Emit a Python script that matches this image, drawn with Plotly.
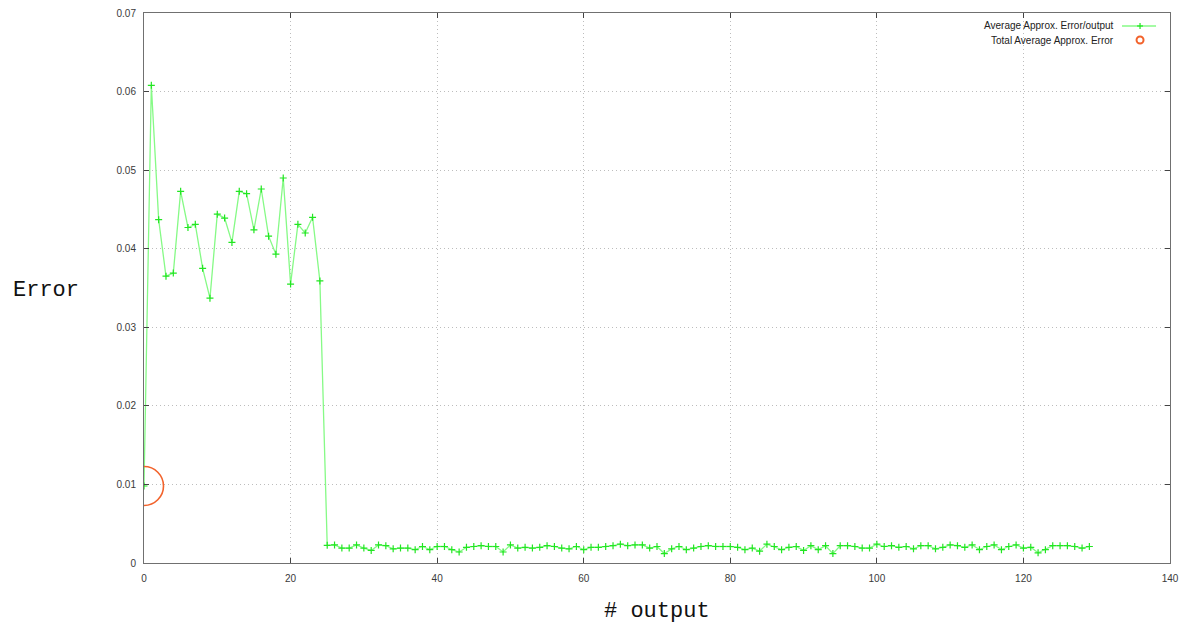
import plotly.graph_objects as go

# ---- data ----
x_vals = list(range(0, 130))
avg_err = [
    0.0098, 0.0608, 0.0437, 0.0365, 0.0369, 0.0473, 0.0427, 0.0431, 0.0375, 0.0337,
    0.0444, 0.0439, 0.0408, 0.0473, 0.0470, 0.0424, 0.0476, 0.0416, 0.0393, 0.0490,
    0.0355, 0.0431, 0.0420, 0.0440, 0.0359, 0.00225, 0.0023, 0.0019, 0.0019, 0.0023,
    0.0019, 0.0016, 0.0023, 0.0022, 0.0018, 0.0019, 0.0019, 0.0017, 0.0021, 0.0017,
    0.0021, 0.0021, 0.0017, 0.0014, 0.0020, 0.0021, 0.0022, 0.0021, 0.0021, 0.0014,
    0.0023, 0.0019, 0.0020, 0.0019, 0.0020, 0.0022, 0.0021, 0.0019, 0.0018, 0.0021,
    0.0017, 0.0020, 0.0020, 0.0021, 0.0022, 0.0024, 0.0022, 0.0023, 0.0023, 0.0019,
    0.0021, 0.0012, 0.0018, 0.0021, 0.0017, 0.0019, 0.0021, 0.0022, 0.0021, 0.0021,
    0.0021, 0.0020, 0.0017, 0.0019, 0.0015, 0.0024, 0.0021, 0.0017, 0.0020, 0.0021,
    0.0016, 0.0022, 0.0017, 0.0022, 0.0012, 0.0022, 0.0022, 0.0021, 0.0019, 0.0019,
    0.0024, 0.0021, 0.0022, 0.0020, 0.0021, 0.0018, 0.0022, 0.0022, 0.0018, 0.0020,
    0.0023, 0.0022, 0.0020, 0.0023, 0.0017, 0.0021, 0.0023, 0.0017, 0.0021, 0.0023,
    0.0019, 0.0020, 0.0013, 0.0017, 0.0022, 0.0022, 0.0022, 0.0021, 0.0019, 0.0021,
]
total_x = [0]
total_err = [0.0098]

x_ticks = [0, 20, 40, 60, 80, 100, 120, 140]
y_ticks = [0, 0.01, 0.02, 0.03, 0.04, 0.05, 0.06, 0.07]
y_tick_text = ["0", "0.01", "0.02", "0.03", "0.04", "0.05", "0.06", "0.07"]

series_names = ["Average Approx. Error/output", "Total Average Approx. Error"]

GREEN_LINE = "#86fa86"
GREEN_MARK = "#22e622"
ORANGE = "#f2622b"
TICK_FONT = dict(family="Liberation Sans, Arial, sans-serif", size=10, color="#3a3a3a")

fig = go.Figure()
fig.add_trace(go.Scatter(
    x=x_vals, y=avg_err, mode="lines+markers", name=series_names[0],
    line=dict(color=GREEN_LINE, width=1.3),
    marker=dict(symbol="cross-thin", size=5, line=dict(color=GREEN_MARK, width=1.2), color=GREEN_MARK),
    showlegend=False,
))
fig.add_trace(go.Scatter(
    x=total_x, y=total_err, mode="markers", name=series_names[1],
    marker=dict(symbol="circle-open", size=39, line=dict(color=ORANGE, width=1.6), color=ORANGE),
    showlegend=False, cliponaxis=True,
))

axis_common = dict(
    showgrid=True, gridcolor="#bdbdbd", griddash="1px,3px", gridwidth=1,
    showline=True, linecolor="#707070", linewidth=1, mirror="allticks",
    ticks="inside", ticklen=5, tickcolor="#444444", zeroline=False,
    tickfont=TICK_FONT, automargin=False,
)
fig.update_xaxes(range=[0, 140], tickvals=x_ticks, ticklabelstandoff=6, **axis_common)
fig.update_yaxes(range=[0, 0.07], tickvals=y_ticks, ticktext=y_tick_text, ticklabelstandoff=5, **axis_common)

# axis titles as annotations (gnuplot-like positioning)
fig.add_annotation(text="Error", xref="paper", yref="paper", x=-0.0955, y=0.496,
                   xanchor="center", yanchor="middle", showarrow=False,
                   font=dict(family="Liberation Mono, Courier New, monospace", size=22, color="#111111"))
fig.add_annotation(text="# output", xref="paper", yref="paper", x=0.5, y=-0.089,
                   xanchor="center", yanchor="middle", showarrow=False,
                   font=dict(family="Liberation Mono, Courier New, monospace", size=22, color="#111111"))

# gnuplot-style legend (text right, sample left)
leg_font = dict(family="Liberation Sans, Arial, sans-serif", size=10, color="#222222")
fig.add_annotation(text=series_names[0], xref="paper", yref="paper", x=0.9474, y=0.9764,
                   xanchor="right", yanchor="middle", showarrow=False, font=leg_font)
fig.add_annotation(text=series_names[1], xref="paper", yref="paper", x=0.9474, y=0.9509,
                   xanchor="right", yanchor="middle", showarrow=False, font=leg_font)
fig.add_shape(type="line", xref="paper", yref="paper", x0=0.9532, x1=0.9864, y0=0.9764, y1=0.9764,
              line=dict(color=GREEN_LINE, width=1.3))
fig.add_shape(type="line", xref="paper", yref="paper", x0=0.9708, x1=0.9708, y0=0.9709, y1=0.9819,
              line=dict(color=GREEN_MARK, width=1.2))
fig.add_shape(type="line", xref="paper", yref="paper", x0=0.9679, x1=0.9737, y0=0.9764, y1=0.9764,
              line=dict(color=GREEN_MARK, width=1.2))
fig.add_shape(type="circle", xref="paper", yref="paper", x0=0.9674, x1=0.9742, y0=0.9445, y1=0.9573,
              line=dict(color=ORANGE, width=2))

fig.update_layout(
    width=1188, height=625,
    margin=dict(l=144, r=18, t=13, b=62),
    paper_bgcolor="white", plot_bgcolor="white",
)

fig.write_html(
    "out.html",
    config={"displayModeBar": False, "responsive": False},
    post_script=(
        "document.body.style.margin='0';document.body.style.padding='0';"
        "document.documentElement.style.overflow='hidden';"
        "var d=document.getElementById('{plot_id}');"
        "d.style.position='absolute';d.style.left='0px';d.style.top='0px';"
    ),
)
